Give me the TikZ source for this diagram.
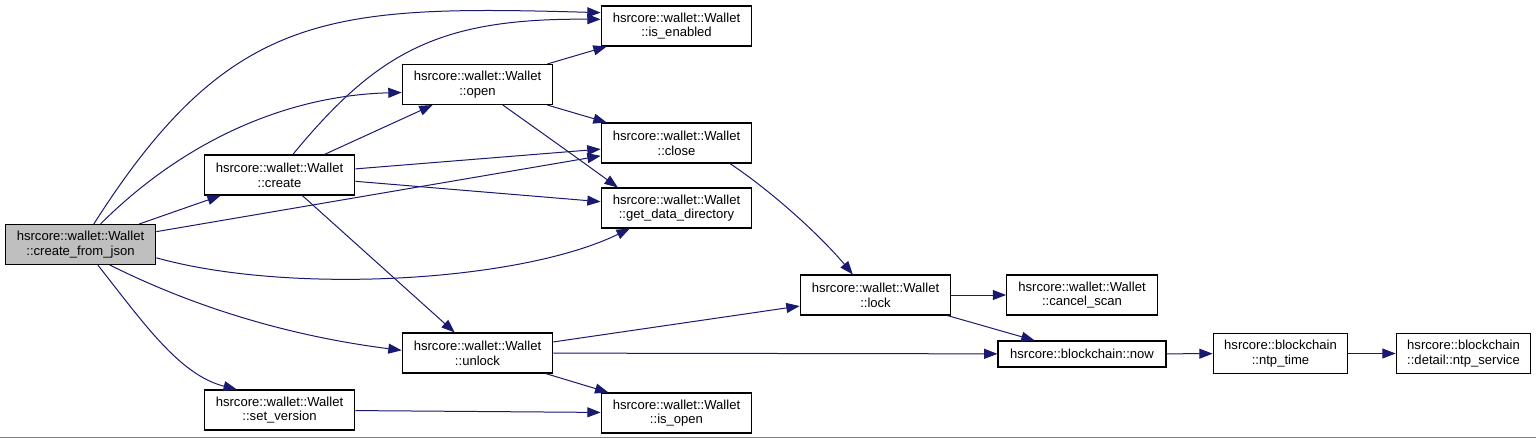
\documentclass[tikz,border=0pt]{standalone}
\usepackage{fontspec}
\setmainfont{Liberation Sans}
\usetikzlibrary{arrows.meta,positioning}
\definecolor{edgeblue}{HTML}{191970}
\definecolor{curgray}{HTML}{BFBFBF}

\begin{document}
\begin{tikzpicture}[
    x=0.75pt, y=-0.75pt,
    box/.style={rectangle, draw=black, line width=0.8pt, minimum width=113pt, minimum height=30pt, inner sep=1pt, align=center, font=\fontsize{9.8}{11}\selectfont},
    call/.style={draw=edgeblue, line width=0.75pt, -{Triangle[length=10pt, width=7.5pt]}}
]
\fill[white] (0,0) rectangle (1536,439);
\useasboundingbox (0,0) rectangle (1536,439);

\node[box, fill=curgray] (cfj)    at (80.5,244.5) {hsrcore::wallet::Wallet\\::create\_from\_json};
\node[box]               (create) at (279.5,175)  {hsrcore::wallet::Wallet\\::create};
\node[box]               (setv)   at (279.5,410)  {hsrcore::wallet::Wallet\\::set\_version};
\node[box]               (open)   at (477.5,84.5) {hsrcore::wallet::Wallet\\::open};
\node[box]               (unlock) at (477.5,353)  {hsrcore::wallet::Wallet\\::unlock};
\node[box]               (isen)   at (676.5,26)   {hsrcore::wallet::Wallet\\::is\_enabled};
\node[box]               (close)  at (676.5,143)  {hsrcore::wallet::Wallet\\::close};
\node[box]               (gdd)    at (676.5,208)  {hsrcore::wallet::Wallet\\::get\_data\_directory};
\node[box]               (isopen) at (676.5,413)  {hsrcore::wallet::Wallet\\::is\_open};
\node[box]               (lock)   at (875.5,295)  {hsrcore::wallet::Wallet\\::lock};
\node[box]               (cancel) at (1082,295)   {hsrcore::wallet::Wallet\\::cancel\_scan};
\node[box, minimum width=126pt, minimum height=19.5pt] (now) at (1082,354) {hsrcore::blockchain::now};
\node[box, minimum width=101pt] (ntptime) at (1280.5,353.5) {hsrcore::blockchain\\::ntp\_time};
\node[box, minimum width=101pt] (ntpserv) at (1463.5,353.5) {hsrcore::blockchain\\::detail::ntp\_service};

\draw[call] ([xshift=10pt]cfj.north) .. controls (230,10) and (330,5) .. ([yshift=10pt]isen.west);
\draw[call] ([xshift=15pt]cfj.north) .. controls (194,131) and (300,95) .. ([yshift=-6pt]open.west);
\draw[call] (cfj) -- (create);
\draw[call] (cfj) -- (close);
\draw[call] ([yshift=-10pt]cfj.east) .. controls (290,295) and (520,282) .. ([xshift=-35pt]gdd.south);
\draw[call] ([xshift=22pt]cfj.south) .. controls (218,319) and (320,340) .. ([yshift=2pt]unlock.west);
\draw[call] ([xshift=13pt]cfj.south) .. controls (145,325) and (180,375) .. ([xshift=-32pt]setv.north);
\draw[call] ([xshift=10pt]create.north) .. controls (378,51) and (440,18) .. ([yshift=5pt]isen.west);
\draw[call] (create) -- (open);
\draw[call] (create) -- (close);
\draw[call] (create) -- (gdd);
\draw[call] (create) -- (unlock);
\draw[call] (open) -- (isen);
\draw[call] (open) -- (close);
\draw[call] ([xshift=19pt]open.south) .. controls (545,135) and (580,160) .. ([xshift=-44pt]gdd.north);
\draw[call] ([xshift=40pt]close.south) .. controls (770,190) and (820,235) .. ([xshift=-17pt]lock.north);
\draw[call] (unlock) -- (lock);
\draw[call] (unlock) -- (now);
\draw[call] (unlock) -- (isopen);
\draw[call] (setv) -- (isopen);
\draw[call] (lock) -- (cancel);
\draw[call] (lock) -- (now);
\draw[call] (now) -- (ntptime);
\draw[call] (ntptime) -- (ntpserv);

\draw[gray, line width=0.75pt] (0,437.5) -- (1536,437.5);
\end{tikzpicture}
\end{document}
